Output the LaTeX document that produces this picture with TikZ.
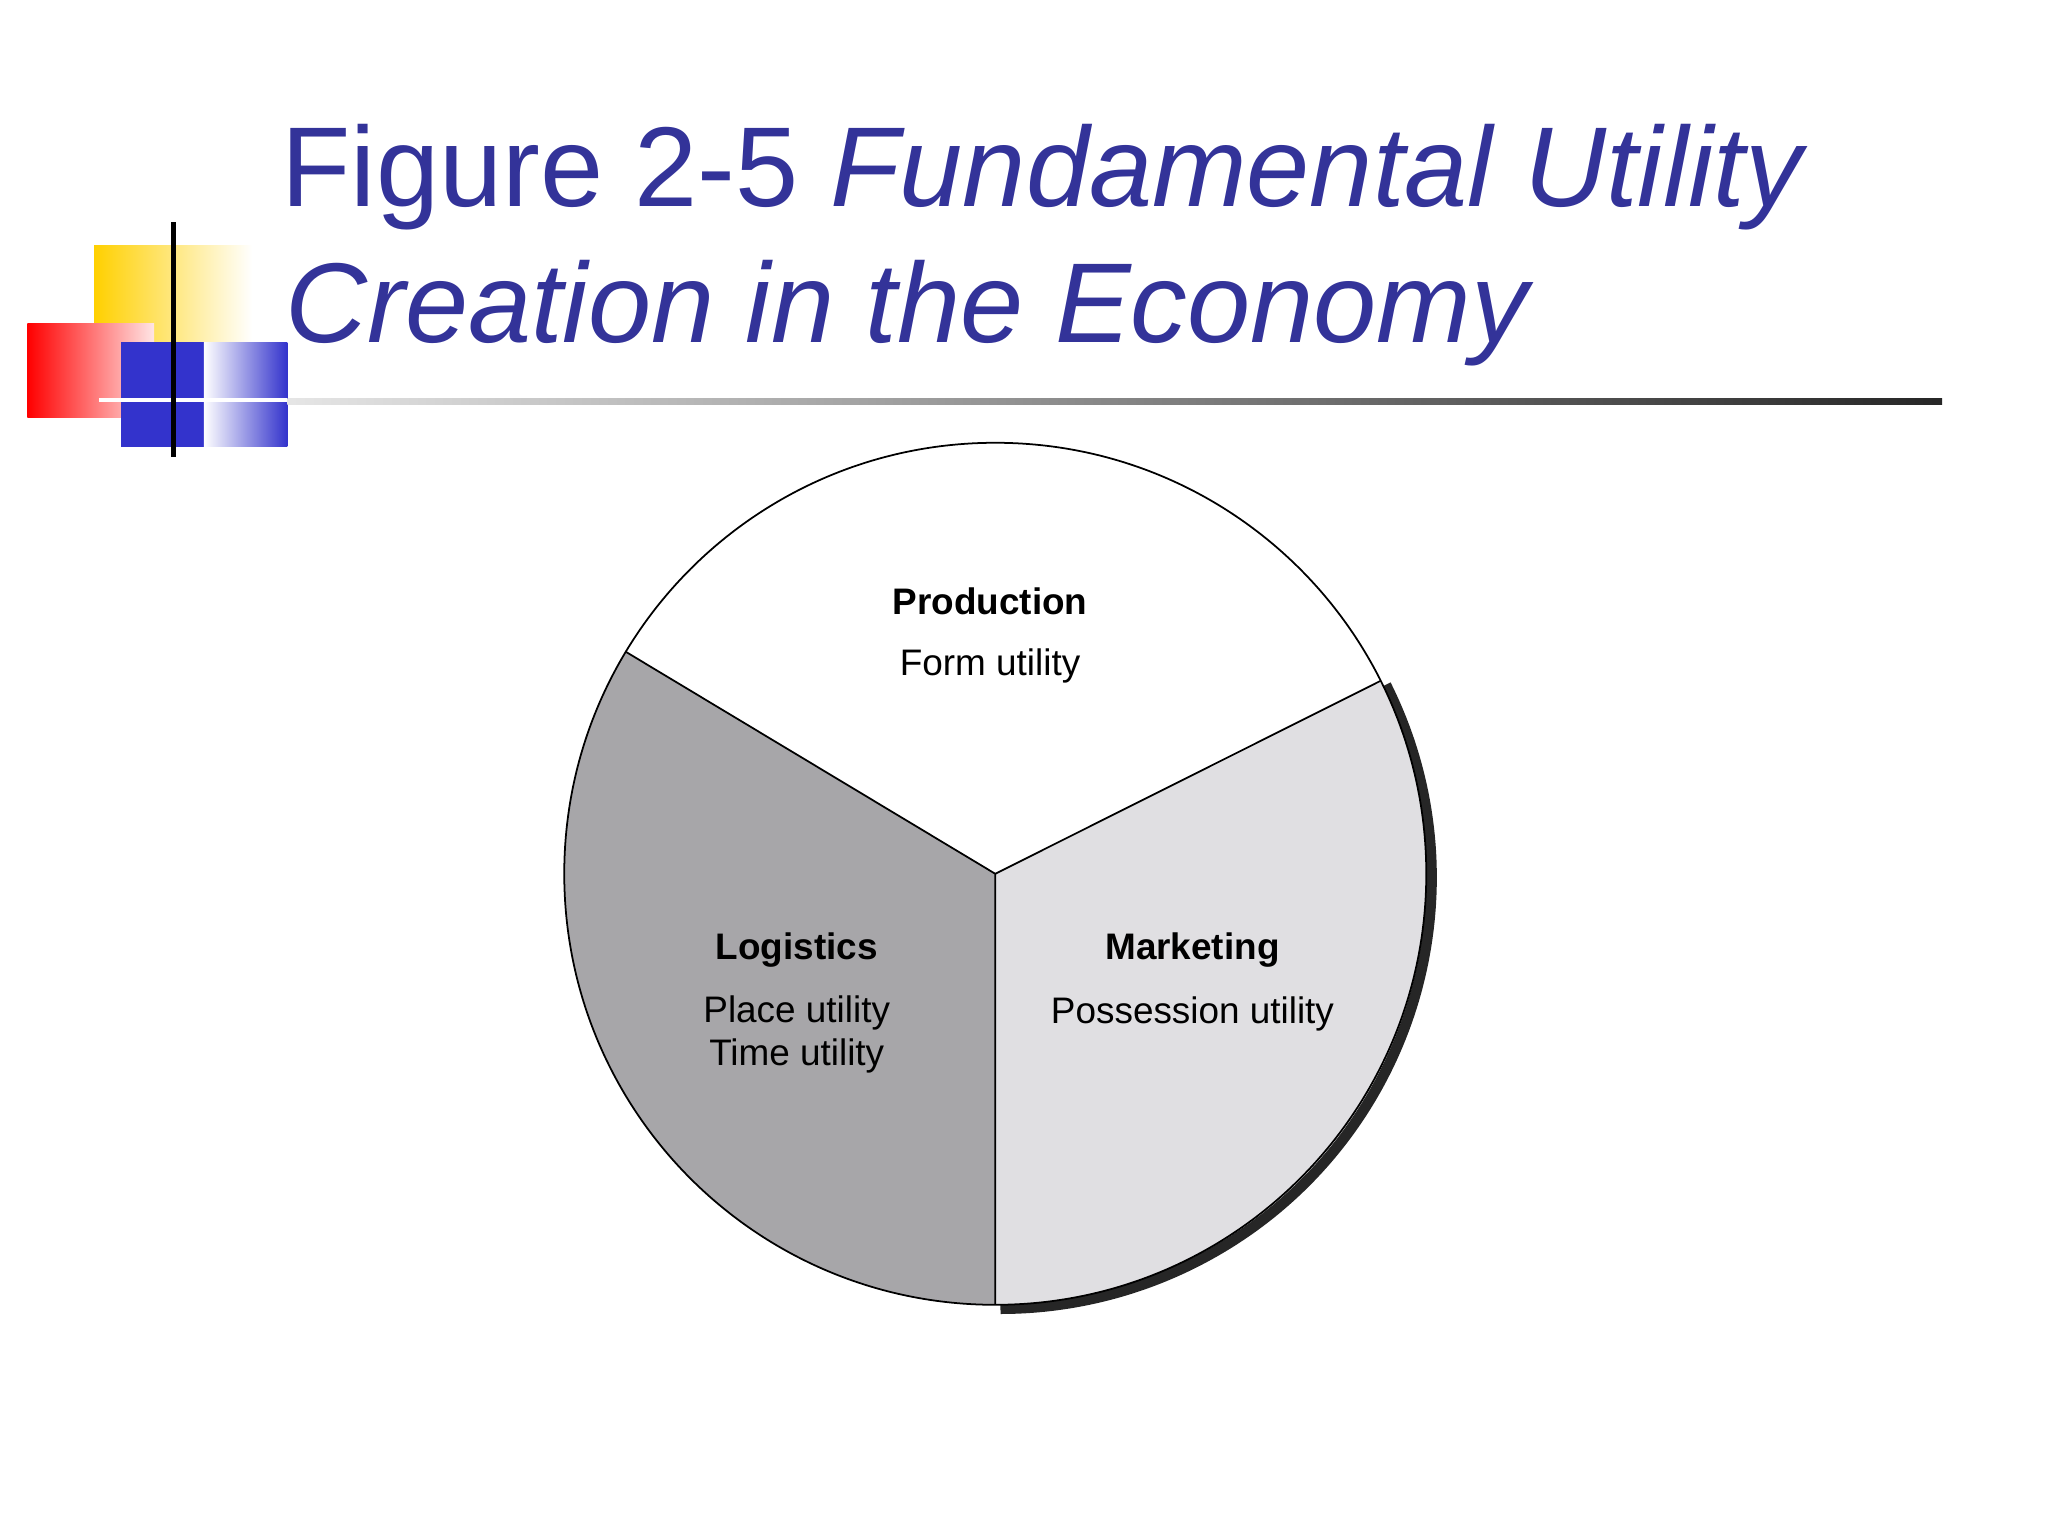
\documentclass[tikz,border=0pt]{standalone}
\usepackage{fontspec}
\setmainfont{Liberation Sans}
\usetikzlibrary{calc}
\definecolor{titleblue}{HTML}{333399}
\definecolor{loggray}{HTML}{A7A6A9}
\definecolor{mktgray}{HTML}{E0DFE2}
\definecolor{logoyel}{HTML}{FFD000}
\definecolor{logoblue}{HTML}{3333CC}
\tikzset{head/.style={font=\bfseries\fontsize{10.5}{13}\selectfont},
 sub/.style={font=\fontsize{10.5}{12.5}\selectfont, align=center}}
\begin{document}
\begin{tikzpicture}[x=0.013061cm,y=-0.013061cm]
\useasboundingbox (0,0) rectangle (1568,1176);
% logo
\shade[left color=logoyel, right color=white] (72,188) rectangle (193,262);
\shade[left color=red, right color=red!10!white] (21,248) rectangle (118,320);
\fill[logoblue] (93,262) rectangle (156,342);
\shade[left color=white, right color=logoblue] (156,262) rectangle (220,342);
\draw[white, line width=1.2pt] (76,306) -- (220,306);
\draw[black, line width=1.3pt] (133,170) -- (133,350);
\shade[left color=gray!20, right color=black!85] (220,305) rectangle (1487,310);
% title
\node[anchor=base west, text=titleblue, font=\fontsize{32.3}{38}\selectfont, inner sep=0] (t1) at (215,158) {Figure 2-5 \textit{Fundamental Utility}};
\node[anchor=base west, text=titleblue, font=\itshape\fontsize{32.3}{38}\selectfont, inner sep=0] (t2) at (218,262) {Creation in the Economy};
% pie
\coordinate (c) at (762,669);
\def\R{330}
\draw[black!85, line width=3pt] ($(c)+(4,3)$) ++(-26.6:\R) arc[start angle=-26.6, end angle=90, radius=\R];
\fill[white] (c) -- ++(-149:\R) arc[start angle=-149, end angle=-26.6, radius=\R] -- cycle;
\fill[loggray] (c) -- ++(-149:\R) arc[start angle=-149, end angle=-270, radius=\R] -- cycle;
\fill[mktgray] (c) -- ++(90:\R) arc[start angle=90, end angle=-26.6, radius=\R] -- cycle;
\draw[black, line width=0.5pt] (c) circle[radius=\R];
\draw[black, line width=0.5pt] (c) -- ++(-149:\R) (c) -- ++(-26.6:\R) (c) -- ++(90:\R);
% labels
\node[head] (p) at (758,460) {Production};
\node[sub] (pf) at (758,510) {Form utility};
\node[head] (l) at (610,727) {Logistics};
\node[sub] (lp) at (610,792) {Place utility\\Time utility};
\node[head] (m) at (913,727) {Marketing};
\node[sub] (mp) at (913,776) {Possession utility};
\end{tikzpicture}
\end{document}
